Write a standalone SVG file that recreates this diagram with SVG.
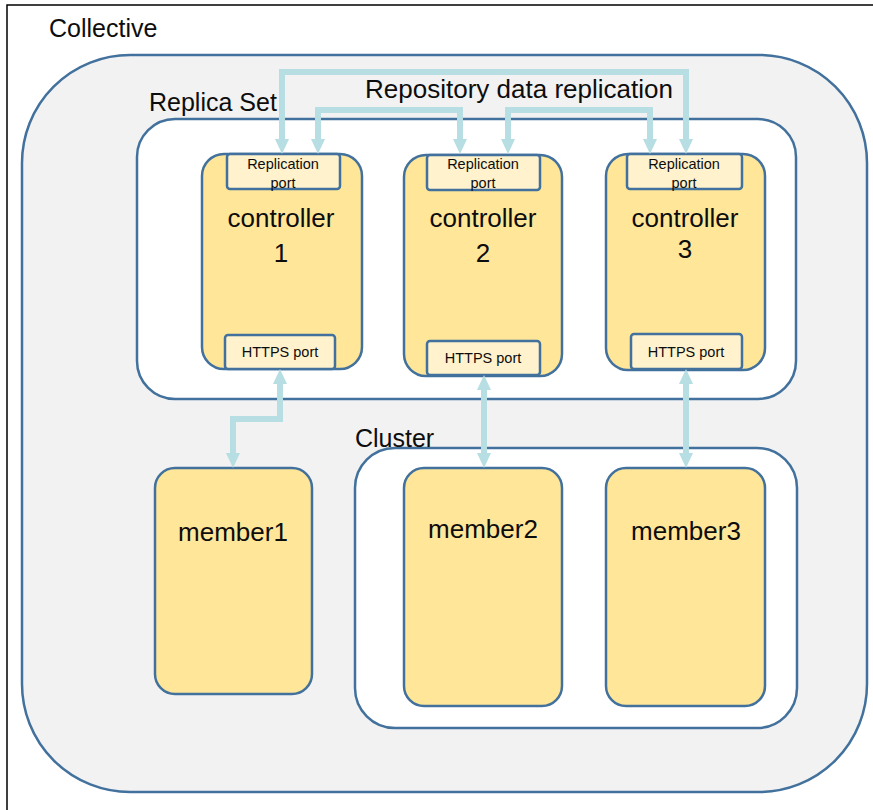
<svg xmlns="http://www.w3.org/2000/svg" width="873" height="810" viewBox="0 0 873 810">
  <style>
    text { font-family: "Liberation Sans", Arial, sans-serif; fill: #0d0d0d; }
    .title { font-size: 25px; }
    .big { font-size: 26px; text-anchor: middle; }
    .small { font-size: 14.5px; text-anchor: middle; }
    .area { stroke: #41719c; stroke-width: 2.5; }
    .node { fill: #ffe699; stroke: #41719c; stroke-width: 2.5; }
    .port { fill: #fff2cc; stroke: #41719c; stroke-width: 2.5; }
    .link { fill: none; stroke: #b7dee3; stroke-width: 6; stroke-linejoin: miter; marker-start: url(#head); marker-end: url(#head); }
  </style>
  <defs>
    <marker id="head" viewBox="0 -7 15 14" refX="0" refY="0" markerWidth="15" markerHeight="14" markerUnits="userSpaceOnUse" orient="auto-start-reverse">
      <path d="M0,-7 L15,0 L0,7 Z" fill="#b7dee3"/>
    </marker>
  </defs>

  <rect width="873" height="810" fill="#ffffff"/>
  <!-- frame -->
  <path d="M7,810 V5 H873" fill="none" stroke="#000" stroke-width="1.5"/>

  <!-- containers -->
  <g id="collective">
    <rect class="area" x="22" y="55" width="845" height="737" rx="108" ry="108" fill="#f2f2f2"/>
    <text class="title" x="49" y="37">Collective</text>
  </g>
  <g id="replica-set">
    <rect class="area" x="137" y="119" width="659" height="280" rx="38" ry="38" fill="#ffffff"/>
    <text class="title" x="149" y="111">Replica Set</text>
  </g>
  <g id="cluster">
    <rect class="area" x="355" y="448" width="442" height="280" rx="40" ry="40" fill="#ffffff"/>
    <text class="title" x="355" y="447">Cluster</text>
  </g>
  <text class="big" x="519" y="98">Repository data replication</text>

  <!-- controllers -->
  <g id="controller1">
    <rect class="node" x="202" y="154" width="160" height="215" rx="22" ry="22"/>
    <rect class="port" x="227" y="154" width="113" height="35" rx="3"/>
    <text class="small" x="283" y="169">Replication</text>
    <text class="small" x="283" y="188">port</text>
    <text class="big" x="281" y="227">controller</text>
    <text class="big" x="281" y="262">1</text>
    <rect class="port" x="225" y="335" width="110" height="34" rx="3"/>
    <text class="small" x="280" y="357">HTTPS port</text>
  </g>
  <g id="controller2">
    <rect class="node" x="404" y="155" width="158" height="221" rx="22" ry="22"/>
    <rect class="port" x="427" y="155" width="113" height="35" rx="3"/>
    <text class="small" x="483" y="169">Replication</text>
    <text class="small" x="483" y="188">port</text>
    <text class="big" x="483" y="227">controller</text>
    <text class="big" x="483" y="262">2</text>
    <rect class="port" x="427" y="341" width="113" height="34" rx="3"/>
    <text class="small" x="483" y="363">HTTPS port</text>
  </g>
  <g id="controller3">
    <rect class="node" x="606" y="154" width="159" height="216" rx="22" ry="22"/>
    <rect class="port" x="627" y="154" width="115" height="35" rx="3"/>
    <text class="small" x="684" y="169">Replication</text>
    <text class="small" x="684" y="188">port</text>
    <text class="big" x="685" y="227">controller</text>
    <text class="big" x="685" y="258">3</text>
    <rect class="port" x="631" y="334" width="111" height="35" rx="3"/>
    <text class="small" x="686" y="357">HTTPS port</text>
  </g>

  <!-- members -->
  <g id="member1">
    <rect class="node" x="155" y="468" width="157" height="226" rx="20" ry="20"/>
    <text class="big" x="233" y="541">member1</text>
  </g>
  <g id="member2">
    <rect class="node" x="404" y="468" width="158" height="238" rx="20" ry="20"/>
    <text class="big" x="483" y="538">member2</text>
  </g>
  <g id="member3">
    <rect class="node" x="606" y="468" width="159" height="238" rx="20" ry="20"/>
    <text class="big" x="686" y="540">member3</text>
  </g>

  <!-- connectors -->
  <g id="connectors">
    <path class="link" d="M282,139 V72 H686 V139"/>
    <path class="link" d="M318,139 V110 H460 V139"/>
    <path class="link" d="M508,139 V110 H650 V139"/>
    <path class="link" d="M280,384 V419 H233 V453"/>
    <path class="link" d="M484,390 V453"/>
    <path class="link" d="M686,384 V453"/>
  </g>
</svg>
